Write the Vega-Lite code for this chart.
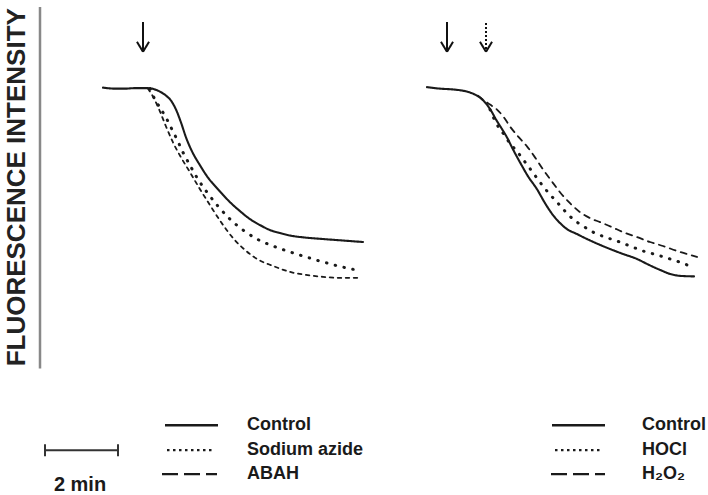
{
  "$schema": "https://vega.github.io/schema/vega-lite/v6.json",
  "width": 708,
  "height": 495,
  "autosize": {"type": "fit", "contains": "padding"},
  "padding": 0,
  "background": "white",
  "config": {"view": {"stroke": null}, "text": {"font": "Liberation Sans"}},
  "encoding": {
    "x": {"field": "x", "type": "quantitative", "scale": {"domain": [0, 708], "nice": false, "zero": false}, "axis": null},
    "y": {"field": "y", "type": "quantitative", "scale": {"domain": [0, 495], "nice": false, "zero": false, "reverse": true}, "axis": null}
  },
  "resolve": {"scale": {"strokeDash": "independent", "strokeWidth": "independent"}},
  "layer": [
    {
      "data": {"values": [{"x": 40, "y": 7, "y2": 370}]},
      "mark": {"type": "rule", "color": "#888", "strokeWidth": 2.5},
      "encoding": {"y2": {"field": "y2"}}
    },
    {
      "data": {"values": [{"x": 17, "y": 188, "label": "FLUORESCENCE INTENSITY"}]},
      "mark": {"type": "text", "angle": 270, "fontSize": 26, "fontWeight": "bold", "color": "#222", "align": "center", "baseline": "middle"},
      "encoding": {"text": {"field": "label"}}
    },
    {
      "data": {"values": [
        {"c": "L-Control", "s": "Control", "x": 103, "y": 88}, {"c": "L-Control", "s": "Control", "x": 115, "y": 89}, {"c": "L-Control", "s": "Control", "x": 125, "y": 89}, {"c": "L-Control", "s": "Control", "x": 135, "y": 88.5}, {"c": "L-Control", "s": "Control", "x": 147, "y": 88.5}, {"c": "L-Control", "s": "Control", "x": 154, "y": 89.5}, {"c": "L-Control", "s": "Control", "x": 160, "y": 92}, {"c": "L-Control", "s": "Control", "x": 166, "y": 96}, {"c": "L-Control", "s": "Control", "x": 171, "y": 101}, {"c": "L-Control", "s": "Control", "x": 176, "y": 110}, {"c": "L-Control", "s": "Control", "x": 181, "y": 123}, {"c": "L-Control", "s": "Control", "x": 186, "y": 138}, {"c": "L-Control", "s": "Control", "x": 192, "y": 152}, {"c": "L-Control", "s": "Control", "x": 200, "y": 166}, {"c": "L-Control", "s": "Control", "x": 207, "y": 177}, {"c": "L-Control", "s": "Control", "x": 218, "y": 190}, {"c": "L-Control", "s": "Control", "x": 230, "y": 203}, {"c": "L-Control", "s": "Control", "x": 240, "y": 212}, {"c": "L-Control", "s": "Control", "x": 250, "y": 220}, {"c": "L-Control", "s": "Control", "x": 260, "y": 226}, {"c": "L-Control", "s": "Control", "x": 270, "y": 231}, {"c": "L-Control", "s": "Control", "x": 280, "y": 234}, {"c": "L-Control", "s": "Control", "x": 290, "y": 236.5}, {"c": "L-Control", "s": "Control", "x": 305, "y": 238.5}, {"c": "L-Control", "s": "Control", "x": 323, "y": 240}, {"c": "L-Control", "s": "Control", "x": 343, "y": 241.5}, {"c": "L-Control", "s": "Control", "x": 363, "y": 243},
        {"c": "L-Azide", "s": "Sodium azide", "x": 150, "y": 89}, {"c": "L-Azide", "s": "Sodium azide", "x": 155, "y": 100}, {"c": "L-Azide", "s": "Sodium azide", "x": 160, "y": 108}, {"c": "L-Azide", "s": "Sodium azide", "x": 167, "y": 120}, {"c": "L-Azide", "s": "Sodium azide", "x": 172, "y": 130}, {"c": "L-Azide", "s": "Sodium azide", "x": 177, "y": 140}, {"c": "L-Azide", "s": "Sodium azide", "x": 183, "y": 153}, {"c": "L-Azide", "s": "Sodium azide", "x": 190, "y": 166}, {"c": "L-Azide", "s": "Sodium azide", "x": 198, "y": 180}, {"c": "L-Azide", "s": "Sodium azide", "x": 207, "y": 193}, {"c": "L-Azide", "s": "Sodium azide", "x": 218, "y": 207}, {"c": "L-Azide", "s": "Sodium azide", "x": 230, "y": 220}, {"c": "L-Azide", "s": "Sodium azide", "x": 243, "y": 231}, {"c": "L-Azide", "s": "Sodium azide", "x": 257, "y": 240}, {"c": "L-Azide", "s": "Sodium azide", "x": 273, "y": 247}, {"c": "L-Azide", "s": "Sodium azide", "x": 290, "y": 253}, {"c": "L-Azide", "s": "Sodium azide", "x": 306, "y": 258}, {"c": "L-Azide", "s": "Sodium azide", "x": 323, "y": 263}, {"c": "L-Azide", "s": "Sodium azide", "x": 342, "y": 268}, {"c": "L-Azide", "s": "Sodium azide", "x": 361, "y": 272},
        {"c": "L-ABAH", "s": "ABAH", "x": 148, "y": 89}, {"c": "L-ABAH", "s": "ABAH", "x": 153, "y": 97}, {"c": "L-ABAH", "s": "ABAH", "x": 160, "y": 112}, {"c": "L-ABAH", "s": "ABAH", "x": 166, "y": 127}, {"c": "L-ABAH", "s": "ABAH", "x": 173, "y": 143}, {"c": "L-ABAH", "s": "ABAH", "x": 181, "y": 158}, {"c": "L-ABAH", "s": "ABAH", "x": 190, "y": 173}, {"c": "L-ABAH", "s": "ABAH", "x": 200, "y": 190}, {"c": "L-ABAH", "s": "ABAH", "x": 210, "y": 206}, {"c": "L-ABAH", "s": "ABAH", "x": 221, "y": 223}, {"c": "L-ABAH", "s": "ABAH", "x": 233, "y": 239}, {"c": "L-ABAH", "s": "ABAH", "x": 245, "y": 251}, {"c": "L-ABAH", "s": "ABAH", "x": 257, "y": 260}, {"c": "L-ABAH", "s": "ABAH", "x": 273, "y": 267}, {"c": "L-ABAH", "s": "ABAH", "x": 290, "y": 273}, {"c": "L-ABAH", "s": "ABAH", "x": 306, "y": 276}, {"c": "L-ABAH", "s": "ABAH", "x": 323, "y": 278}, {"c": "L-ABAH", "s": "ABAH", "x": 342, "y": 279}, {"c": "L-ABAH", "s": "ABAH", "x": 361, "y": 279},
        {"c": "R-Control", "s": "Control", "x": 427, "y": 87.5}, {"c": "R-Control", "s": "Control", "x": 440, "y": 89}, {"c": "R-Control", "s": "Control", "x": 455, "y": 90}, {"c": "R-Control", "s": "Control", "x": 465, "y": 91.5}, {"c": "R-Control", "s": "Control", "x": 473, "y": 94}, {"c": "R-Control", "s": "Control", "x": 480, "y": 98}, {"c": "R-Control", "s": "Control", "x": 486, "y": 104}, {"c": "R-Control", "s": "Control", "x": 491, "y": 111}, {"c": "R-Control", "s": "Control", "x": 496, "y": 120}, {"c": "R-Control", "s": "Control", "x": 501, "y": 128}, {"c": "R-Control", "s": "Control", "x": 507, "y": 138}, {"c": "R-Control", "s": "Control", "x": 513, "y": 150}, {"c": "R-Control", "s": "Control", "x": 520, "y": 163}, {"c": "R-Control", "s": "Control", "x": 528, "y": 177}, {"c": "R-Control", "s": "Control", "x": 537, "y": 190}, {"c": "R-Control", "s": "Control", "x": 545, "y": 204}, {"c": "R-Control", "s": "Control", "x": 553, "y": 216}, {"c": "R-Control", "s": "Control", "x": 560, "y": 224}, {"c": "R-Control", "s": "Control", "x": 567, "y": 230}, {"c": "R-Control", "s": "Control", "x": 577, "y": 235}, {"c": "R-Control", "s": "Control", "x": 587, "y": 240}, {"c": "R-Control", "s": "Control", "x": 598, "y": 245}, {"c": "R-Control", "s": "Control", "x": 610, "y": 250}, {"c": "R-Control", "s": "Control", "x": 623, "y": 255}, {"c": "R-Control", "s": "Control", "x": 637, "y": 260}, {"c": "R-Control", "s": "Control", "x": 648, "y": 265.5}, {"c": "R-Control", "s": "Control", "x": 660, "y": 271}, {"c": "R-Control", "s": "Control", "x": 670, "y": 275}, {"c": "R-Control", "s": "Control", "x": 680, "y": 277}, {"c": "R-Control", "s": "Control", "x": 694, "y": 277.5},
        {"c": "R-HOCl", "s": "HOCl", "x": 490, "y": 110}, {"c": "R-HOCl", "s": "HOCl", "x": 497, "y": 125}, {"c": "R-HOCl", "s": "HOCl", "x": 504, "y": 135}, {"c": "R-HOCl", "s": "HOCl", "x": 510, "y": 144}, {"c": "R-HOCl", "s": "HOCl", "x": 517, "y": 152}, {"c": "R-HOCl", "s": "HOCl", "x": 523, "y": 160}, {"c": "R-HOCl", "s": "HOCl", "x": 532, "y": 172}, {"c": "R-HOCl", "s": "HOCl", "x": 540, "y": 183}, {"c": "R-HOCl", "s": "HOCl", "x": 548, "y": 193}, {"c": "R-HOCl", "s": "HOCl", "x": 557, "y": 203}, {"c": "R-HOCl", "s": "HOCl", "x": 565, "y": 212}, {"c": "R-HOCl", "s": "HOCl", "x": 573, "y": 220}, {"c": "R-HOCl", "s": "HOCl", "x": 583, "y": 227}, {"c": "R-HOCl", "s": "HOCl", "x": 593, "y": 233}, {"c": "R-HOCl", "s": "HOCl", "x": 605, "y": 238}, {"c": "R-HOCl", "s": "HOCl", "x": 617, "y": 242}, {"c": "R-HOCl", "s": "HOCl", "x": 630, "y": 247}, {"c": "R-HOCl", "s": "HOCl", "x": 643, "y": 252}, {"c": "R-HOCl", "s": "HOCl", "x": 657, "y": 256}, {"c": "R-HOCl", "s": "HOCl", "x": 670, "y": 260}, {"c": "R-HOCl", "s": "HOCl", "x": 682, "y": 264}, {"c": "R-HOCl", "s": "HOCl", "x": 694, "y": 269},
        {"c": "R-H2O2", "s": "H₂O₂", "x": 478, "y": 96}, {"c": "R-H2O2", "s": "H₂O₂", "x": 483, "y": 100}, {"c": "R-H2O2", "s": "H₂O₂", "x": 490, "y": 105}, {"c": "R-H2O2", "s": "H₂O₂", "x": 497, "y": 110}, {"c": "R-H2O2", "s": "H₂O₂", "x": 504, "y": 118}, {"c": "R-H2O2", "s": "H₂O₂", "x": 510, "y": 127}, {"c": "R-H2O2", "s": "H₂O₂", "x": 518, "y": 137}, {"c": "R-H2O2", "s": "H₂O₂", "x": 527, "y": 147}, {"c": "R-H2O2", "s": "H₂O₂", "x": 535, "y": 158}, {"c": "R-H2O2", "s": "H₂O₂", "x": 543, "y": 170}, {"c": "R-H2O2", "s": "H₂O₂", "x": 551, "y": 181}, {"c": "R-H2O2", "s": "H₂O₂", "x": 560, "y": 193}, {"c": "R-H2O2", "s": "H₂O₂", "x": 570, "y": 204}, {"c": "R-H2O2", "s": "H₂O₂", "x": 580, "y": 213}, {"c": "R-H2O2", "s": "H₂O₂", "x": 590, "y": 219}, {"c": "R-H2O2", "s": "H₂O₂", "x": 600, "y": 223}, {"c": "R-H2O2", "s": "H₂O₂", "x": 612, "y": 228}, {"c": "R-H2O2", "s": "H₂O₂", "x": 623, "y": 233}, {"c": "R-H2O2", "s": "H₂O₂", "x": 637, "y": 238}, {"c": "R-H2O2", "s": "H₂O₂", "x": 650, "y": 243}, {"c": "R-H2O2", "s": "H₂O₂", "x": 663, "y": 247}, {"c": "R-H2O2", "s": "H₂O₂", "x": 677, "y": 252}, {"c": "R-H2O2", "s": "H₂O₂", "x": 697, "y": 258}
      ]},
      "mark": {"type": "line", "color": "#1a1a1a", "strokeCap": "round", "interpolate": "monotone"},
      "encoding": {
        "detail": {"field": "c"},
        "strokeDash": {"field": "s", "type": "nominal", "legend": null,
          "scale": {"domain": ["Control", "Sodium azide", "ABAH", "HOCl", "H₂O₂"], "range": [[1, 0], [0.5, 8.5], [3.5, 4.5], [0.5, 8.5], [6, 5.5]]}},
        "strokeWidth": {"field": "s", "type": "nominal", "legend": null,
          "scale": {"type": "ordinal", "domain": ["Control", "Sodium azide", "ABAH", "HOCl", "H₂O₂"], "range": [2.1, 3, 1.8, 3, 1.8]}}
      }
    },
    {
      "data": {"values": [
        {"s": "Control", "x": 165, "x2": 218, "y": 427, "lx": 247},
        {"s": "Sodium azide", "x": 167, "x2": 213, "y": 452, "lx": 247},
        {"s": "ABAH", "x": 162, "x2": 217, "y": 476, "lx": 247},
        {"s": "Control", "x": 552, "x2": 605, "y": 427, "lx": 642},
        {"s": "HOCl", "x": 555, "x2": 600, "y": 452, "lx": 642},
        {"s": "H₂O₂", "x": 551, "x2": 605, "y": 476, "lx": 642}
      ]},
      "layer": [
        {
          "mark": {"type": "rule", "color": "#1a1a1a", "strokeWidth": 2.4, "strokeCap": "butt"},
          "encoding": {
            "x2": {"field": "x2"},
            "strokeDash": {"field": "s", "type": "nominal", "legend": null,
              "scale": {"domain": ["Control", "Sodium azide", "ABAH", "HOCl", "H₂O₂"], "range": [[1, 0], [2.5, 3.5], [16, 6], [2.5, 3.5], [16, 6]]}}
          }
        },
        {
          "mark": {"type": "text", "align": "left", "baseline": "middle", "fontSize": 18, "fontWeight": "bold", "color": "#1a1a1a"},
          "encoding": {"x": {"field": "lx", "type": "quantitative"}, "text": {"field": "s"}}
        }
      ]
    },
    {
      "data": {"values": [
        {"x": 45, "x2": 118, "y": 452, "y2": 452},
        {"x": 45, "x2": 45, "y": 446, "y2": 458},
        {"x": 118, "x2": 118, "y": 446, "y2": 458}
      ]},
      "mark": {"type": "rule", "color": "#333", "strokeWidth": 2},
      "encoding": {"x2": {"field": "x2"}, "y2": {"field": "y2"}}
    },
    {
      "data": {"values": [{"x": 80, "y": 487, "label": "2 min"}]},
      "mark": {"type": "text", "align": "center", "baseline": "middle", "fontSize": 20, "fontWeight": "bold", "color": "#1a1a1a"},
      "encoding": {"text": {"field": "label"}}
    },
    {
      "data": {"values": [
        {"k": "solid", "x": 143, "x2": 143, "y": 22, "y2": 52},
        {"k": "solid", "x": 137, "x2": 143, "y": 42, "y2": 52},
        {"k": "solid", "x": 149, "x2": 143, "y": 42, "y2": 52},
        {"k": "solid", "x": 447, "x2": 447, "y": 22, "y2": 52},
        {"k": "solid", "x": 441, "x2": 447, "y": 42, "y2": 52},
        {"k": "solid", "x": 453, "x2": 447, "y": 42, "y2": 52},
        {"k": "dotted", "x": 486, "x2": 486, "y": 23, "y2": 51},
        {"k": "solid", "x": 480, "x2": 486, "y": 42, "y2": 52},
        {"k": "solid", "x": 492, "x2": 486, "y": 42, "y2": 52}
      ]},
      "mark": {"type": "rule", "color": "#111", "strokeWidth": 2},
      "encoding": {
        "x2": {"field": "x2"}, "y2": {"field": "y2"},
        "strokeDash": {"field": "k", "type": "nominal", "legend": null,
          "scale": {"domain": ["solid", "dotted"], "range": [[1, 0], [2, 2]]}}
      }
    }
  ]
}
